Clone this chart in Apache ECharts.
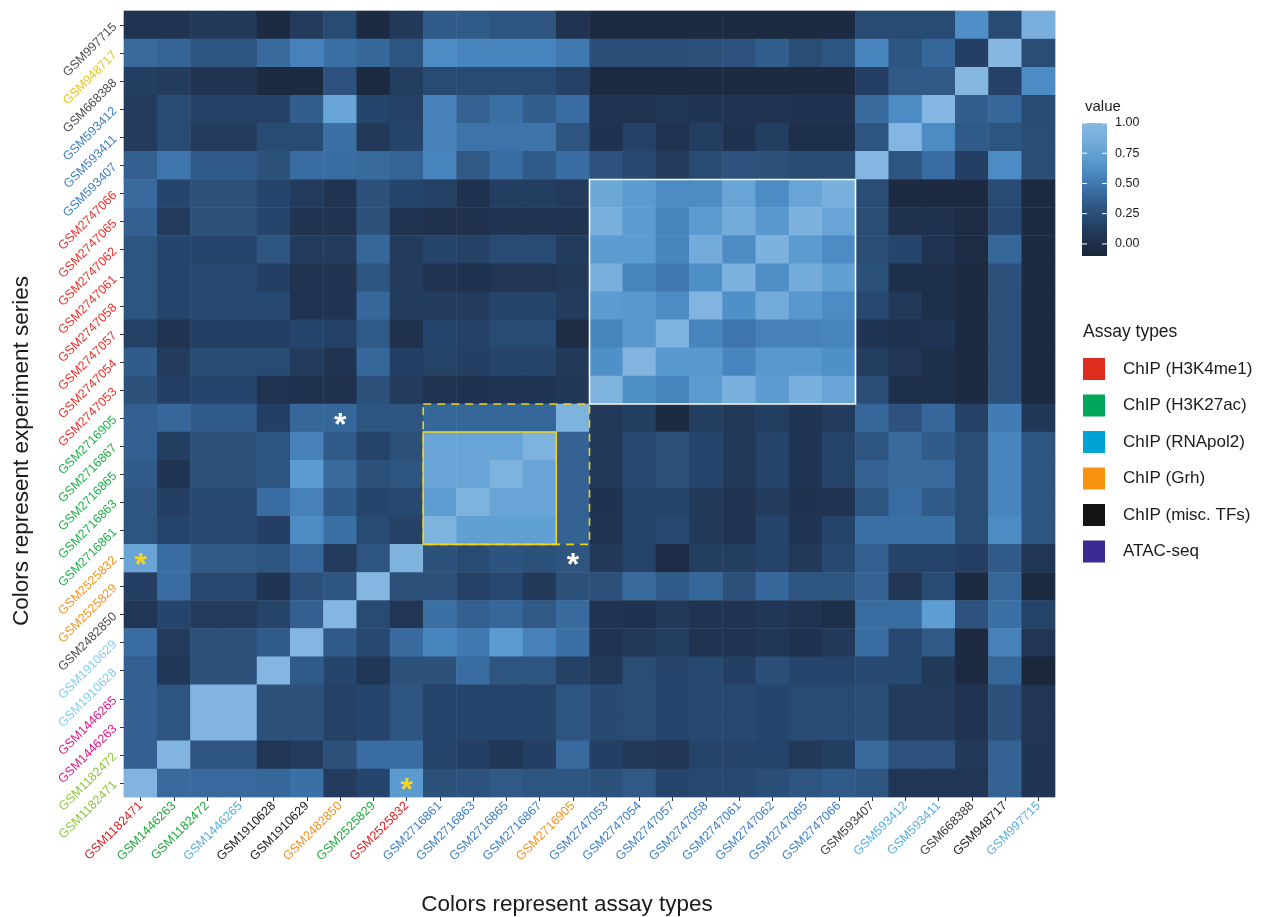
<!DOCTYPE html>
<html>
<head>
<meta charset="utf-8">
<script src="https://cdn.jsdelivr.net/npm/echarts@6/dist/echarts.min.js"></script>
<style>
  html, body { margin: 0; padding: 0; background: #ffffff; }
  #main { width: 1266px; height: 917px; }
</style>
</head>
<body>
<div id="main"></div>
<script>
// Columns (left to right)
const xLabels = [
  'GSM1182471','GSM1446263','GSM1182472','GSM1446265','GSM1910628','GSM1910629','GSM2482850',
  'GSM2525829','GSM2525832','GSM2716861','GSM2716863','GSM2716865','GSM2716867','GSM2716905',
  'GSM2747053','GSM2747054','GSM2747057','GSM2747058','GSM2747061','GSM2747062','GSM2747065',
  'GSM2747066','GSM593407','GSM593412','GSM593411','GSM668388','GSM948717','GSM997715'
];
const xLabelColors = [
  '#E41A1C','#22A83F','#22A83F','#56AEE2','#1a1a1a','#1a1a1a','#F5901E',
  '#22A83F','#E41A1C','#3E7FC9','#3E7FC9','#3E7FC9','#3E7FC9','#F5901E',
  '#3E7FC9','#3E7FC9','#3E7FC9','#3E7FC9','#3E7FC9','#3E7FC9','#3E7FC9',
  '#3E7FC9','#3c3c3c','#56AEE2','#56AEE2','#3c3c3c','#1a1a1a','#56AEE2'
];

// Rows (top to bottom)
const yLabels = [
  'GSM997715','GSM948717','GSM668388','GSM593412','GSM593411','GSM593407',
  'GSM2747066','GSM2747065','GSM2747062','GSM2747061','GSM2747058','GSM2747057','GSM2747054','GSM2747053',
  'GSM2716905','GSM2716867','GSM2716865','GSM2716863','GSM2716861',
  'GSM2525832','GSM2525829','GSM2482850','GSM1910629','GSM1910628',
  'GSM1446265','GSM1446263','GSM1182472','GSM1182471'
];
const yLabelColors = [
  '#4d4d4d','#E6C619','#4d4d4d','#3E7FC9','#3E7FC9','#3E7FC9',
  '#F0312A','#F0312A','#F0312A','#F0312A','#F0312A','#F0312A','#F0312A','#F0312A',
  '#22B04B','#22B04B','#22B04B','#22B04B','#22B04B',
  '#F7941D','#F7941D','#4d4d4d','#7FCFF0','#7FCFF0',
  '#E6198A','#E6198A','#8DC63F','#8DC63F'
];

// Similarity values, one row per entry of yLabels, one value per entry of xLabels
const values = [
  [0.05,0.05,0.10,0.10,-0.05,0.12,0.22,-0.05,0.10, 0.34,0.33,0.30,0.30,0.05, -0.05,-0.05,-0.05,-0.05,-0.05,-0.05,-0.05,-0.05, 0.22,0.22,0.22,0.62,0.22,0.88],
  [0.42,0.38,0.30,0.30,0.42,0.55,0.45,0.40,0.30, 0.60,0.57,0.57,0.57,0.50, 0.25,0.25,0.25,0.27,0.28,0.35,0.24,0.30, 0.57,0.30,0.40,0.14,1.00,0.24],
  [0.13,0.12,0.05,0.05,-0.05,-0.05,0.28,-0.05,0.13, 0.22,0.22,0.22,0.22,0.15, -0.05,-0.05,-0.05,-0.05,-0.05,-0.05,-0.05,-0.05, 0.14,0.32,0.32,0.98,0.15,0.60],
  [0.12,0.22,0.15,0.15,0.15,0.35,0.78,0.18,0.15, 0.55,0.37,0.45,0.35,0.43, 0.05,0.05,0.08,0.06,0.06,0.05,0.03,0.03, 0.42,0.60,0.97,0.35,0.40,0.22],
  [0.12,0.22,0.12,0.12,0.22,0.22,0.45,0.10,0.17, 0.55,0.47,0.47,0.47,0.30, 0.03,0.15,0.05,0.13,0.03,0.13,0.00,0.00, 0.30,0.97,0.60,0.33,0.30,0.24],
  [0.36,0.48,0.33,0.33,0.27,0.43,0.43,0.42,0.38, 0.57,0.32,0.43,0.33,0.43, 0.28,0.20,0.12,0.22,0.28,0.27,0.23,0.23, 0.97,0.30,0.43,0.14,0.60,0.24],
  [0.42,0.18,0.27,0.27,0.18,0.12,0.05,0.27,0.18, 0.15,0.03,0.13,0.13,0.12, 0.80,0.70,0.60,0.60,0.78,0.60,0.78,0.88, 0.24,-0.05,-0.05,-0.05,0.22,-0.05],
  [0.36,0.12,0.27,0.27,0.18,0.05,0.05,0.27,0.05, 0.02,0.02,0.05,0.05,0.05, 0.88,0.70,0.57,0.70,0.85,0.68,0.92,0.78, 0.24,0.02,0.02,-0.03,0.20,-0.05],
  [0.30,0.18,0.18,0.18,0.30,0.12,0.12,0.40,0.12, 0.17,0.15,0.22,0.22,0.12, 0.70,0.70,0.57,0.85,0.60,0.92,0.70,0.60, 0.24,0.18,0.05,-0.03,0.40,-0.05],
  [0.30,0.18,0.20,0.20,0.14,0.05,0.05,0.30,0.12, 0.05,0.03,0.07,0.07,0.10, 0.88,0.57,0.50,0.63,0.92,0.62,0.85,0.74, 0.27,0.00,0.00,-0.05,0.27,-0.05],
  [0.30,0.18,0.20,0.20,0.20,0.05,0.05,0.40,0.12, 0.12,0.12,0.17,0.17,0.12, 0.70,0.68,0.60,0.95,0.63,0.85,0.68,0.60, 0.20,0.10,0.00,-0.05,0.26,-0.05],
  [0.15,0.05,0.14,0.14,0.14,0.18,0.15,0.33,0.02, 0.18,0.15,0.22,0.22,-0.03, 0.57,0.68,0.93,0.57,0.48,0.55,0.55,0.57, 0.06,0.03,0.06,-0.05,0.26,-0.05],
  [0.34,0.12,0.22,0.22,0.22,0.12,0.05,0.40,0.14, 0.16,0.14,0.17,0.17,0.10, 0.63,0.95,0.68,0.68,0.57,0.68,0.68,0.63, 0.13,0.07,0.00,-0.05,0.26,-0.05],
  [0.27,0.14,0.18,0.18,0.05,0.02,0.02,0.27,0.12, 0.05,0.03,0.06,0.06,0.08, 0.93,0.63,0.57,0.70,0.88,0.70,0.88,0.78, 0.25,0.00,0.00,-0.05,0.26,-0.05],
  [0.36,0.40,0.33,0.33,0.14,0.40,0.40,0.30,0.30, 0.40,0.40,0.40,0.40,0.93, 0.10,0.13,-0.05,0.13,0.10,0.13,0.06,0.12, 0.40,0.28,0.40,0.15,0.52,0.08],
  [0.36,0.13,0.27,0.27,0.30,0.55,0.33,0.17,0.26, 0.78,0.78,0.78,0.93,0.37, 0.10,0.20,0.26,0.18,0.10,0.17,0.06,0.16, 0.30,0.42,0.34,0.24,0.57,0.30],
  [0.34,0.06,0.27,0.27,0.30,0.70,0.42,0.26,0.30, 0.78,0.78,0.93,0.78,0.37, 0.10,0.20,0.26,0.18,0.10,0.17,0.06,0.16, 0.37,0.42,0.42,0.24,0.57,0.30],
  [0.30,0.14,0.20,0.20,0.43,0.55,0.34,0.18,0.20, 0.72,0.93,0.78,0.78,0.37, 0.03,0.17,0.17,0.10,0.05,0.12,0.03,0.05, 0.30,0.43,0.34,0.24,0.57,0.30],
  [0.30,0.18,0.20,0.20,0.14,0.60,0.45,0.22,0.15, 0.93,0.74,0.74,0.74,0.37, 0.05,0.17,0.20,0.10,0.05,0.17,0.06,0.17, 0.45,0.45,0.45,0.24,0.60,0.30],
  [0.78,0.43,0.32,0.32,0.30,0.40,0.12,0.30,0.93, 0.27,0.22,0.29,0.26,0.30, 0.10,0.16,-0.02,0.13,0.13,0.17,0.10,0.20, 0.36,0.17,0.17,0.14,0.33,0.07],
  [0.14,0.43,0.20,0.20,0.06,0.26,0.30,0.97,0.26, 0.27,0.15,0.20,0.10,0.26, 0.26,0.42,0.34,0.40,0.26,0.40,0.30,0.30, 0.37,0.07,0.22,-0.05,0.40,-0.05],
  [0.07,0.18,0.12,0.12,0.17,0.36,0.97,0.22,0.07, 0.45,0.36,0.40,0.32,0.42, 0.05,0.03,0.10,0.05,0.05,0.08,0.04,0.00, 0.43,0.43,0.72,0.28,0.45,0.16],
  [0.43,0.12,0.26,0.26,0.33,0.97,0.33,0.20,0.42, 0.57,0.50,0.70,0.55,0.45, 0.05,0.10,0.13,0.05,0.05,0.08,0.03,0.10, 0.43,0.20,0.32,-0.05,0.55,0.07],
  [0.36,0.08,0.26,0.26,0.97,0.33,0.18,0.08,0.27, 0.27,0.43,0.30,0.30,0.15, 0.10,0.24,0.17,0.20,0.14,0.25,0.18,0.18, 0.20,0.20,0.10,-0.05,0.40,-0.08],
  [0.36,0.30,0.95,0.95,0.27,0.27,0.15,0.18,0.30, 0.18,0.18,0.18,0.18,0.30, 0.21,0.24,0.18,0.20,0.20,0.18,0.22,0.22, 0.25,0.12,0.12,0.05,0.27,0.07],
  [0.36,0.30,0.95,0.95,0.27,0.27,0.15,0.18,0.30, 0.18,0.18,0.18,0.18,0.30, 0.21,0.24,0.18,0.20,0.20,0.18,0.22,0.22, 0.25,0.12,0.12,0.05,0.27,0.07],
  [0.36,0.95,0.30,0.30,0.07,0.12,0.26,0.43,0.43, 0.17,0.14,0.08,0.14,0.42, 0.14,0.10,0.07,0.17,0.17,0.17,0.10,0.13, 0.42,0.28,0.28,0.10,0.37,0.06],
  [0.95,0.42,0.42,0.42,0.40,0.45,0.12,0.18,0.70, 0.26,0.28,0.32,0.30,0.30, 0.26,0.32,0.18,0.20,0.20,0.25,0.30,0.33, 0.30,0.07,0.07,0.07,0.37,0.06]
];

// Colour scale
const valueMin = -0.1;
const valueMax = 1.0;
const scaleColors = ['#1A2639','#1E2F4A','#22395A','#274870','#2E5580','#36679A',
                     '#4078B0','#4C8BC4','#5B9BD0','#6BA7D7','#7BB1DD','#86B8E1'];
const colorbarTicks = [0, 0.25, 0.5, 0.75, 1.0];

// Assay type legend
const assayTypes = ['ChIP (H3K4me1)','ChIP (H3K27ac)','ChIP (RNApol2)','ChIP (Grh)','ChIP (misc. TFs)','ATAC-seq'];
const assayColors = ['#DE2D1F','#00A65A','#00A3D6','#F7930F','#141414','#3B2A94'];

// Highlighted blocks: [first column, last column, first row, last row]
const whiteBlock = ['GSM2747053','GSM2747066','GSM2747066','GSM2747053'];
const yellowBlock = ['GSM2716861','GSM2716867','GSM2716867','GSM2716861'];
const yellowDashedBlock = ['GSM2716861','GSM2716905','GSM2716905','GSM2716861'];

// Marked cells: [column, row]
const whiteStars = [['GSM2482850','GSM2716905'], ['GSM2716905','GSM2525832']];
const yellowStars = [['GSM1182471','GSM2525832'], ['GSM2525832','GSM1182471']];

// ---- build the chart ----
const FONT = 'Liberation Sans, Arial, sans-serif';
const yAxisData = yLabels.slice().reverse();   // category axis runs bottom to top
const heatData = [];
values.forEach((row, r) => {
  row.forEach((v, c) => heatData.push([c, yAxisData.indexOf(yLabels[r]), v]));
});

const GRID = { left: 124, top: 11, width: 931, height: 786 };

function blockData(b) {
  return [[xLabels.indexOf(b[0]), yAxisData.indexOf(b[2]), xLabels.indexOf(b[1]), yAxisData.indexOf(b[3])]];
}
function blockSeries(b, color, dashed) {
  return {
    type: 'custom',
    silent: true,
    z: 10,
    data: blockData(b),
    renderItem: function (params, api) {
      const p0 = api.coord([api.value(0), api.value(1)]);
      const p1 = api.coord([api.value(2), api.value(3)]);
      const s = api.size([1, 1]);
      const x0 = Math.min(p0[0], p1[0]) - s[0] / 2;
      const y0 = Math.min(p0[1], p1[1]) - s[1] / 2;
      return {
        type: 'rect',
        shape: { x: x0, y: y0, width: Math.abs(p1[0] - p0[0]) + s[0], height: Math.abs(p1[1] - p0[1]) + s[1] },
        style: { fill: null, stroke: color, lineWidth: 1.6, lineDash: dashed ? [8, 6] : null }
      };
    }
  };
}
function starSeries(cells, color) {
  return {
    type: 'custom',
    silent: true,
    z: 11,
    data: cells.map(c => [xLabels.indexOf(c[0]), yAxisData.indexOf(c[1])]),
    renderItem: function (params, api) {
      const p = api.coord([api.value(0), api.value(1)]);
      return {
        type: 'text',
        x: p[0], y: p[1] + 8,
        style: {
          text: '*', fill: color, fontSize: 32, fontWeight: 'bold', fontFamily: FONT,
          align: 'center', verticalAlign: 'middle'
        }
      };
    }
  };
}

// colour bar drawn from the same scale
const CB = { x: 1082, y: 123, w: 25, h: 133 };
function cbY(v) { return CB.y + (valueMax - v) / (valueMax - valueMin) * CB.h; }
const cbStops = scaleColors.map((c, i) => ({ offset: 1 - i / (scaleColors.length - 1), color: c }));
const graphics = [
  { type: 'text', left: 1085, top: 99, style: { text: 'value', fontSize: 15, fill: '#1a1a1a', fontFamily: FONT } },
  { type: 'rect', shape: { x: CB.x, y: CB.y, width: CB.w, height: CB.h },
    style: { fill: new echarts.graphic.LinearGradient(0, 0, 0, 1, cbStops.slice().reverse()) } },
  { type: 'text', left: 1083, top: 323, style: { text: 'Assay types', fontSize: 17.5, fill: '#1a1a1a', fontFamily: FONT } },
  { type: 'text', x: 567, y: 905, style: { text: 'Colors represent assay types', fontSize: 22.5, fill: '#1a1a1a', align: 'center', verticalAlign: 'middle', fontFamily: FONT } },
  { type: 'text', x: 22, y: 451, rotation: Math.PI / 2, style: { text: 'Colors represent experiment series', fontSize: 22.5, fill: '#1a1a1a', align: 'center', verticalAlign: 'middle', fontFamily: FONT } }
];
colorbarTicks.forEach(t => {
  const y = cbY(t);
  graphics.push({ type: 'line', shape: { x1: CB.x, y1: y, x2: CB.x + 5, y2: y }, style: { stroke: '#ffffff', lineWidth: 1 } });
  graphics.push({ type: 'line', shape: { x1: CB.x + CB.w - 5, y1: y, x2: CB.x + CB.w, y2: y }, style: { stroke: '#ffffff', lineWidth: 1 } });
  graphics.push({ type: 'text', x: CB.x + CB.w + 8, y: y, style: { text: t.toFixed(2), fontSize: 12.5, fill: '#1a1a1a', verticalAlign: 'middle', fontFamily: FONT } });
});

const chart = echarts.init(document.getElementById('main'), null, { renderer: 'canvas' });
chart.setOption({
  backgroundColor: '#ffffff',
  animation: false,
  textStyle: { fontFamily: FONT },
  grid: Object.assign({ show: true, borderColor: '#d6d6d6', borderWidth: 1, backgroundColor: 'transparent', containLabel: false, outerBoundsMode: 'none' }, GRID),
  xAxis: {
    type: 'category',
    data: xLabels,
    axisLine: { show: false },
    axisTick: { show: true, alignWithLabel: true, length: 4, lineStyle: { color: '#333333' } },
    axisLabel: { rotate: 45, fontSize: 12.5, margin: 7, interval: 0, color: (v) => xLabelColors[xLabels.indexOf(v)] },
    splitLine: { show: false }
  },
  yAxis: {
    type: 'category',
    data: yAxisData,
    axisLine: { show: false },
    axisTick: { show: true, alignWithLabel: true, length: 4, lineStyle: { color: '#333333' } },
    axisLabel: { rotate: 45, fontSize: 12.5, margin: 9, interval: 0, color: (v) => yLabelColors[yLabels.indexOf(v)] },
    splitLine: { show: false }
  },
  visualMap: {
    type: 'continuous', show: false, min: valueMin, max: valueMax, dimension: 2, seriesIndex: 0,
    inRange: { color: scaleColors }
  },
  legend: {
    data: assayTypes,
    orient: 'vertical',
    left: 1083, top: 358,
    padding: 0,
    icon: 'rect',
    itemWidth: 22, itemHeight: 22, itemGap: 14.5,
    textStyle: { fontSize: 17, color: '#1a1a1a', padding: [0, 0, 0, 13] },
    selectedMode: false
  },
  graphic: graphics,
  series: [
    { type: 'heatmap', data: heatData, itemStyle: { borderWidth: 0 }, emphasis: { disabled: true } },
    blockSeries(yellowDashedBlock, '#F2D21B', true),
    blockSeries(yellowBlock, '#F2D21B', false),
    blockSeries(whiteBlock, '#ffffff', false),
    starSeries(whiteStars, '#ffffff'),
    starSeries(yellowStars, '#F7D51D')
  ].concat(assayTypes.map((name, i) => ({ type: 'scatter', name: name, data: [], itemStyle: { color: assayColors[i], opacity: 1 } })))
});
</script>
</body>
</html>
